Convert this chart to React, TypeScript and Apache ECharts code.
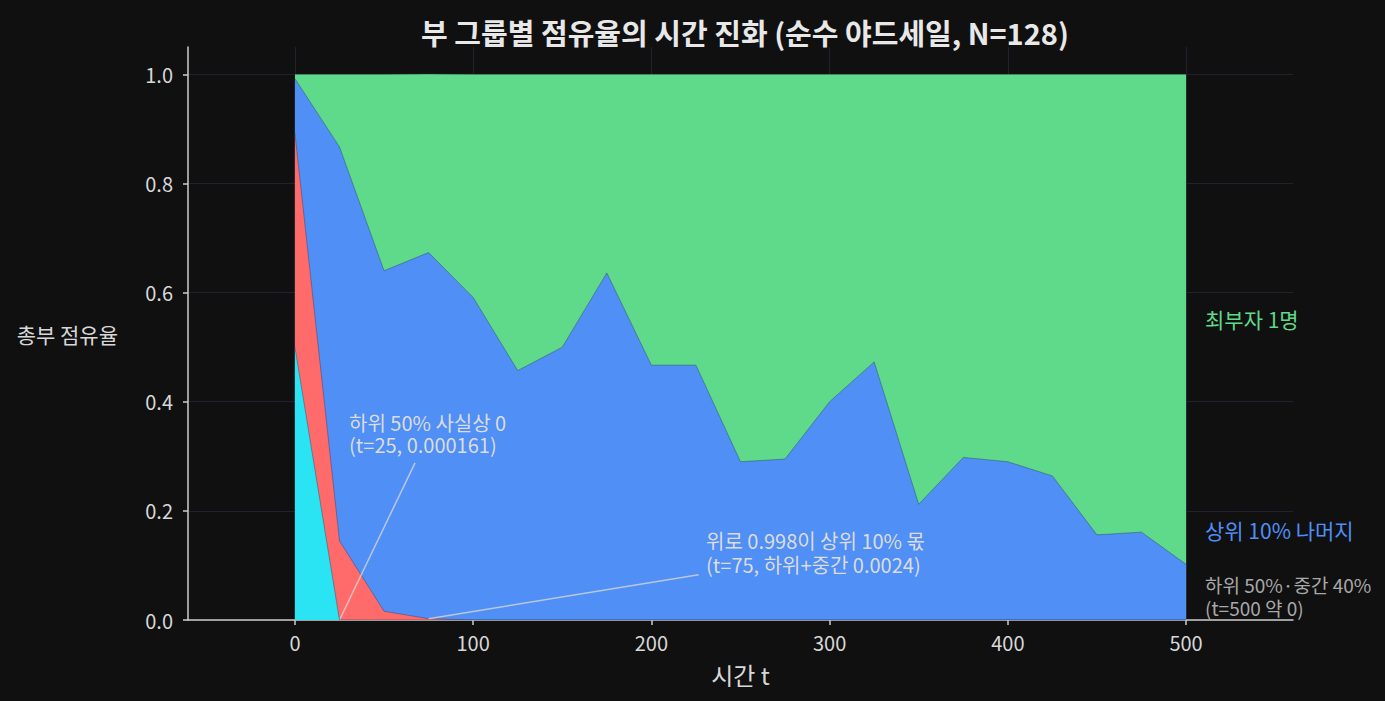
import React, { useEffect, useRef } from "react";
import * as echarts from "echarts";

const times = [0, 25, 50, 75, 100, 125, 150, 175, 200, 225, 250, 275, 300, 325, 350, 375, 400, 425, 450, 475, 500];
const bottom50 = [0.5, 0.000161, 0, 0, 0, 0, 0, 0, 0, 0, 0, 0, 0, 0, 0, 0, 0, 0, 0, 0, 0];
const middle40 = [0.392, 0.1448, 0.016, 0.0024, 0, 0, 0, 0, 0, 0, 0, 0, 0, 0, 0, 0, 0, 0, 0, 0, 0];
const top10Rest = [0.1, 0.722, 0.624, 0.671, 0.591, 0.457, 0.5, 0.636, 0.467, 0.467, 0.29, 0.295, 0.4, 0.473, 0.212, 0.298, 0.29, 0.264, 0.156, 0.161, 0.102];
const richest = [0.008, 0.133, 0.36, 0.327, 0.409, 0.543, 0.5, 0.364, 0.533, 0.533, 0.71, 0.705, 0.6, 0.527, 0.788, 0.702, 0.71, 0.736, 0.844, 0.839, 0.898];
const xTicks = [0, 100, 200, 300, 400, 500];
const yTicks = [0, 0.2, 0.4, 0.6, 0.8, 1.0];

const FONT = "'Noto Sans CJK KR', 'Noto Sans', sans-serif";
const C_CYAN = "#2ae3f3";
const C_RED = "#ff6b6b";
const C_BLUE = "#4f8ff6";
const C_GREEN = "#5fd98a";

// cumulative stacking (bottom to top)
const layers = [bottom50, middle40, top10Rest, richest];
const cumulative = layers.map((_, k) =>
  times.map((_, i) => layers.slice(0, k + 1).reduce((s, arr) => s + arr[i], 0))
);

function area(name: string, values: number[], color: string, z: number, extra: any = {}) {
  return {
    name,
    type: "line",
    data: times.map((t, i) => [t, values[i]]),
    showSymbol: false,
    symbol: "none",
    lineStyle: { width: 0.6, color: "rgba(40,60,90,0.7)" },
    areaStyle: { color, opacity: 1, origin: "start" },
    itemStyle: { color },
    z,
    ...extra,
  };
}

export default function App() {
  const ref = useRef<HTMLDivElement>(null);
  useEffect(() => {
    if (!ref.current) return;
    const chart = echarts.init(ref.current, undefined, { renderer: "svg" });
    const annText = "#dcdcdc";
    chart.setOption({
      animation: false,
      backgroundColor: "#101011",
      title: {
        text: "부 그룹별 점유율의 시간 진화 (순수 야드세일, N=128)",
        left: 740,
        textAlign: "center",
        top: 9,
        textStyle: { color: "#e8e8e8", fontSize: 29, lineHeight: 36, fontWeight: "bold", fontFamily: FONT },
      },
      grid: { left: 188, right: 92, top: 47, bottom: 81, containLabel: false, outerBoundsMode: "none" },
      xAxis: {
        type: "value",
        min: -60,
        max: 560,
        name: "시간 t",
        nameLocation: "middle",
        nameGap: 42,
        nameTextStyle: { color: "#d8d8d8", fontSize: 24, fontFamily: FONT },
        axisLine: { show: true, onZero: false, lineStyle: { color: "#cccccc", width: 1.5 } },
        axisTick: { show: true, customValues: xTicks, length: 5, lineStyle: { color: "#cccccc", width: 1.5 } },
        axisLabel: { customValues: xTicks, color: "#d8d8d8", fontSize: 20, margin: 12, fontFamily: FONT },
        splitLine: { show: true, lineStyle: { color: "#22222e", width: 1 } },
      },
      yAxis: {
        type: "value",
        min: 0,
        max: 1.05,
        name: "총부 점유율",
        nameLocation: "middle",
        nameRotate: 0,
        nameGap: 70,
        nameTextStyle: { color: "#d8d8d8", fontSize: 21, fontFamily: FONT },
        axisLine: { show: true, onZero: false, lineStyle: { color: "#cccccc", width: 1.5 } },
        axisTick: { show: true, customValues: yTicks, length: 5, lineStyle: { color: "#cccccc", width: 1.5 } },
        axisLabel: {
          customValues: yTicks,
          color: "#d8d8d8",
          fontSize: 20,
          margin: 15,
          fontFamily: FONT,
          formatter: (v: number) => v.toFixed(1),
        },
        splitLine: { show: true, lineStyle: { color: "#22222e", width: 1 } },
      },
      series: [
        area("최부자 1명", cumulative[3], C_GREEN, 2),
        area("상위 10% 나머지", cumulative[2], C_BLUE, 3),
        area("중간 40%", cumulative[1], C_RED, 4),
        area("하위 50%", cumulative[0], C_CYAN, 5, {
          markLine: {
            silent: true,
            symbol: ["none", "none"],
            label: { show: false },
            lineStyle: { color: "#d4d4d4", width: 1.5, type: "solid", opacity: 0.8 },
            data: [
              [{ coord: [times[1], 0] }, { coord: [67.4, 0.288] }],
              [{ coord: [times[3], 0.0024] }, { coord: [226.5, 0.083] }],
            ],
          },
        }),
      ],
      graphic: [
        {
          type: "text",
          left: 349,
          top: 411,
          z: 10,
          style: {
            text: "하위 50% 사실상 0\n(t=25, 0.000161)",
            fill: annText,
            fontSize: 20,
            lineHeight: 22,
            fontFamily: FONT,
          },
        },
        {
          type: "text",
          left: 706,
          top: 528,
          z: 10,
          style: {
            text: "위로 0.998이 상위 10% 몫\n(t=75, 하위+중간 0.0024)",
            fill: annText,
            fontSize: 20,
            lineHeight: 24,
            fontFamily: FONT,
          },
        },
        {
          type: "text",
          left: 1205,
          top: 307,
          z: 10,
          style: { text: "최부자 1명", fill: C_GREEN, fontSize: 21, lineHeight: 24, fontFamily: FONT },
        },
        {
          type: "text",
          left: 1205,
          top: 518,
          z: 10,
          style: { text: "상위 10% 나머지", fill: C_BLUE, fontSize: 21, lineHeight: 24, fontFamily: FONT },
        },
        {
          type: "text",
          left: 1205,
          top: 573,
          z: 10,
          style: {
            text: "하위 50%·중간 40%\n(t=500 약 0)",
            fill: "#a8a8a8",
            fontSize: 19,
            lineHeight: 23,
            fontFamily: FONT,
          },
        },
      ],
    });
    return () => chart.dispose();
  }, []);
  return (
    <div
      ref={ref}
      style={{ position: "absolute", left: 0, top: 0, width: 1385, height: 701 }}
    />
  );
}
